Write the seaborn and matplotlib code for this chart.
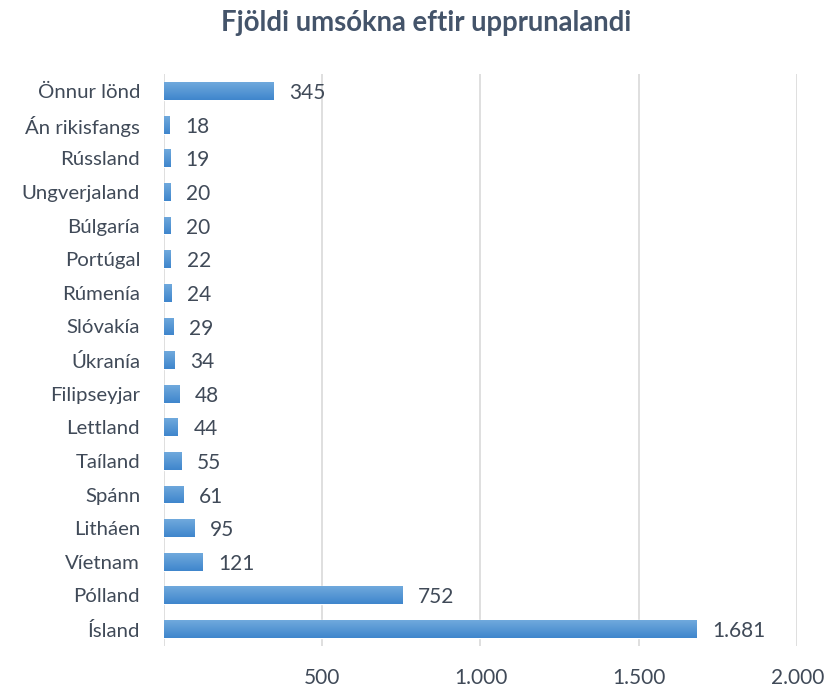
import matplotlib
matplotlib.use("Agg")
import matplotlib.pyplot as plt
import seaborn as sns
import numpy as np
import pandas as pd
from matplotlib.ticker import FuncFormatter
from matplotlib.colors import LinearSegmentedColormap

categories = ["Önnur lönd", "Án rikisfangs", "Rússland", "Ungverjaland", "Búlgaría",
              "Portúgal", "Rúmenía", "Slóvakía", "Úkranía", "Filipseyjar", "Lettland",
              "Taíland", "Spánn", "Litháen", "Víetnam", "Pólland", "Ísland"]
values = [345, 18, 19, 20, 20, 22, 24, 29, 34, 48, 44, 55, 61, 95, 121, 752, 1681]
xticks = [500, 1000, 1500, 2000]

df = pd.DataFrame({"land": categories, "fjoldi": values})

sns.set_theme(style="white")
plt.rcParams["font.family"] = ["Lato", "DejaVu Sans"]

txt = "#404a58"
fig = plt.figure(figsize=(8.27, 6.88), dpi=100)
ax = fig.add_axes([0.198, 0.0613, 0.766, 0.8307])

sns.barplot(data=df, y="land", x="fjoldi", orient="h", color="#5b9bd5",
            width=0.53, saturation=1, ax=ax, zorder=3)

# gradient fill on bars
grad = np.linspace(0, 1, 64).reshape(-1, 1)
cmap = LinearSegmentedColormap.from_list("g", ["#70a9dd", "#3f86cc"])
for p in ax.patches:
    x0, y0 = p.get_x(), p.get_y()
    w, h = p.get_width(), p.get_height()
    im = ax.imshow(grad, extent=[x0, x0 + w, y0 + h, y0], aspect="auto",
                   cmap=cmap, zorder=4, origin="upper")
    im.set_clip_path(p)

ax.set_xlim(0, 2000)
ax.set_ylim(len(categories) - 0.5, -0.5)
ax.set_xticks([0] + xticks)
ax.xaxis.set_major_formatter(FuncFormatter(lambda v, _: "" if v == 0 else f"{int(v):,}".replace(",", ".")))
ax.grid(axis="x", color="#d9d9d9", linewidth=1.2, zorder=0)
ax.grid(axis="y", visible=False)
for s in ax.spines.values():
    s.set_visible(False)
ax.set_xlabel("")
ax.set_ylabel("")
ax.tick_params(axis="x", colors=txt, labelsize=15, length=0, pad=16)
ax.tick_params(axis="y", colors=txt, labelsize=14.7, length=0, pad=17)

for i, v in enumerate(values):
    lab = f"{v:,}".replace(",", ".")
    ax.annotate(lab, xy=(v, i), xytext=(11.5, -1.5), textcoords="offset points",
                va="center", ha="left", fontsize=15, color=txt)

fig.text(0.515, 0.967, "Fjöldi umsókna eftir upprunalandi", ha="center", va="center",
         fontsize=19.8, fontweight="bold", color="#44546a")

fig.savefig("out.png", dpi=100)
